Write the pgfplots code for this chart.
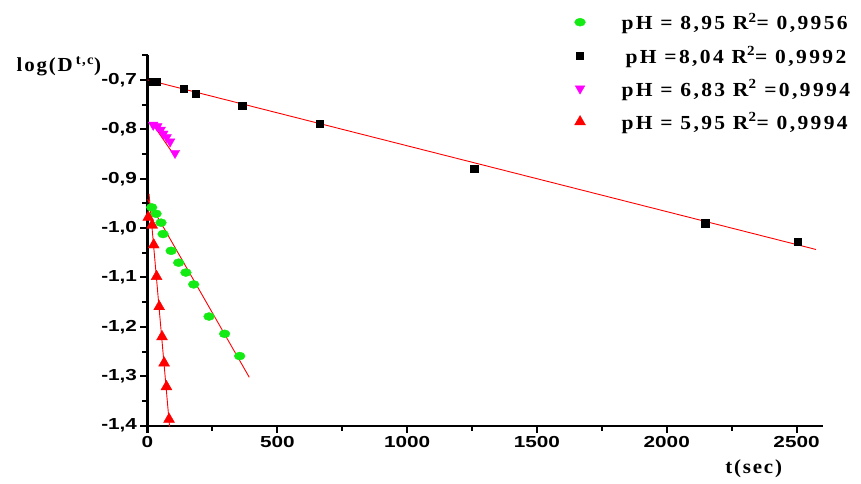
\documentclass[border=0pt]{standalone}
\usepackage{fontspec}
\setmainfont{Liberation Serif}
\newfontfamily\lblfont{Liberation Serif}[FakeStretch=1.05,LetterSpace=9]
\newfontfamily\lgdfont{Liberation Serif}[FakeStretch=1.08,LetterSpace=12]
\newfontfamily\tickfont{Liberation Sans}[FakeStretch=1.3]
\usepackage{pgfplots}
\pgfplotsset{compat=1.18}
\definecolor{ptgreen}{RGB}{20,235,20}
\definecolor{ptmag}{RGB}{255,0,255}
\newcommand{\lblsize}{\lblfont\bfseries\fontsize{20}{24}\selectfont}
\newcommand{\lgd}{\hspace*{34bp}}
\pgfplotsset{
  fit/.style={red, line width=0.9bp, no marks, forget plot},
}
\begin{document}
\begin{tikzpicture}
\useasboundingbox (0,0) rectangle (861bp,484bp);
\begin{axis}[
  at={(147.5bp,58.3bp)}, anchor=south west,
  scale only axis, width=675bp, height=370.5bp,
  xmin=0, xmax=2600, ymin=-1.4, ymax=-0.65,
  axis x line*=bottom, axis y line*=left,
  axis line style={line width=2.2bp, black},
  tick style={line width=2bp, black},
  tick align=outside,
  major tick length=7bp, minor tick length=5bp,
  xtick={0,500,1000,1500,2000,2500},
  xticklabels={0,500,1000,1500,2000,2500},
  minor xtick={250,750,1250,1750,2250},
  ytick={-1.4,-1.3,-1.2,-1.1,-1.0,-0.9,-0.8,-0.7},
  yticklabels={{-1,4},{-1,3},{-1,2},{-1,1},{-1,0},{-0,9},{-0,8},{-0,7}},
  minor ytick={-1.35,-1.25,-1.15,-1.05,-0.95,-0.85,-0.75,-0.65},
  ticklabel style={font=\tickfont\bfseries\fontsize{16}{18}\selectfont},
  clip=false,
  xlabel={t(sec)},
  ylabel={log(D\,\textsuperscript{t,c})},
  every axis x label/.style={at={(axis description cs:0.851,-0.130)}, anchor=base west, font=\lblsize},
  every axis y label/.style={at={(axis description cs:-0.199,0.955)}, anchor=base west, font=\lblsize},
  legend style={at={(axis description cs:0.628,1.125)}, anchor=north west,
    draw=none, fill=none, row sep=11bp,
    font=\lgdfont\bfseries\fontsize{20}{24}\selectfont},
  legend cell align=left,
]
% fitted lines
\addplot[fit] coordinates {(0,-0.700) (2575,-1.0433)};
\addplot[fit] coordinates {(18,-0.788) (106,-0.855)};
\addplot[fit] coordinates {(0,-0.942) (392,-1.302)};
\addplot[fit] coordinates {(6,-0.931) (85,-1.402)};
% pH 8,95
\addplot[only marks, mark=*, ptgreen, mark size=4bp, mark options={xscale=1.35}] coordinates {
  (16,-0.958) (33,-0.971) (52,-0.989) (60,-1.012) (91,-1.046) (120,-1.070)
  (148,-1.090) (178,-1.114) (237,-1.179) (297,-1.214) (355,-1.259)};
\addlegendentry{\lgd pH = 8,95 R\textsuperscript{2}= 0,9956}
% pH 8,04
\addplot[only marks, mark=square*, black, mark size=3.6bp] coordinates {
  (22,-0.703) (36,-0.704) (138,-0.718) (187,-0.728) (365,-0.752)
  (662,-0.789) (1258,-0.880) (2148,-0.990) (2503,-1.027)};
\addlegendentry{\lgd\hspace*{4bp}pH =8,04 R\textsuperscript{2}= 0,9992}
% pH 6,83
\addplot[only marks, mark=triangle*, ptmag, mark size=5.5bp, mark options={rotate=180}] coordinates {
  (22,-0.791) (38,-0.794) (51,-0.801) (61,-0.809) (74,-0.816) (87,-0.825) (106,-0.848)};
\addlegendentry{\lgd pH = 6,83 R\textsuperscript{2} =0,9994}
% pH 5,95
\addplot[only marks, mark=triangle*, red, mark size=6.3bp] coordinates {
  (3,-0.978) (18,-0.994) (24,-1.034) (35,-1.098) (45,-1.159) (56,-1.220)
  (64,-1.273) (73,-1.321) (83,-1.387)};
\addlegendentry{\lgd pH = 5,95 R\textsuperscript{2}= 0,9994}
\end{axis}
\end{tikzpicture}
\end{document}
